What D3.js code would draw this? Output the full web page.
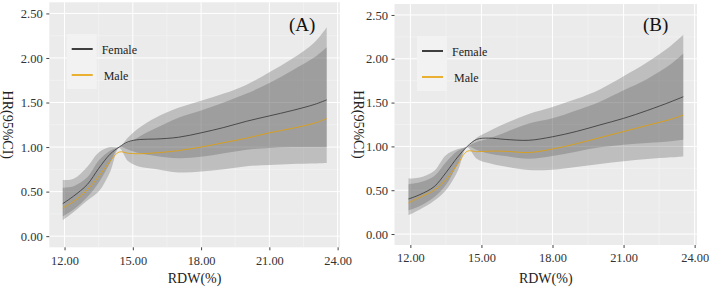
<!DOCTYPE html>
<html>
<head>
<meta charset="utf-8">
<script src="https://cdn.jsdelivr.net/npm/d3@7"></script>
<style>
  html, body { margin: 0; padding: 0; background: #fff; }
  svg { display: block; }
</style>
</head>
<body>
<svg id="chart" width="709" height="290"></svg>
<script>
// RDW grid the curves are read at
const rdw = [11.92, 12.4, 13.0, 13.5, 14.0, 14.4, 14.8, 15.3, 16.0, 17.0, 18.0, 19.0, 20.0, 21.0, 22.0, 23.0, 23.52];

// panel (A)
const femaleA   = [0.365, 0.45, 0.58, 0.76, 0.92, 1.0, 1.06, 1.085, 1.09, 1.11, 1.16, 1.22, 1.29, 1.35, 1.41, 1.48, 1.53];
const femaleHiA = [0.63, 0.645, 0.78, 0.94, 1.0, 1.0, 1.11, 1.22, 1.33, 1.44, 1.52, 1.60, 1.70, 1.84, 1.99, 2.18, 2.345];
const femaleLoA = [0.223, 0.30, 0.44, 0.60, 0.82, 1.0, 0.97, 0.93, 0.90, 0.875, 0.89, 0.93, 0.97, 0.99, 1.0, 1.0, 1.0];
const maleA     = [0.316, 0.39, 0.52, 0.67, 0.84, 0.945, 0.93, 0.925, 0.935, 0.96, 1.0, 1.05, 1.10, 1.16, 1.21, 1.27, 1.32];
const maleHiA   = [0.544, 0.56, 0.66, 0.85, 0.96, 1.0, 1.05, 1.12, 1.21, 1.33, 1.41, 1.50, 1.60, 1.72, 1.86, 2.01, 2.12];
const maleLoA   = [0.179, 0.27, 0.40, 0.50, 0.72, 0.99, 0.84, 0.78, 0.755, 0.715, 0.725, 0.75, 0.785, 0.80, 0.81, 0.815, 0.82];

// panel (B)
const femaleB   = [0.40, 0.45, 0.54, 0.70, 0.88, 1.0, 1.08, 1.095, 1.08, 1.07, 1.11, 1.17, 1.245, 1.32, 1.41, 1.51, 1.567];
const femaleHiB = [0.633, 0.645, 0.72, 0.90, 0.97, 1.0, 1.10, 1.17, 1.26, 1.37, 1.45, 1.54, 1.65, 1.80, 1.96, 2.15, 2.27];
const femaleLoB = [0.27, 0.32, 0.42, 0.56, 0.80, 1.0, 0.96, 0.92, 0.89, 0.86, 0.89, 0.94, 0.99, 1.02, 1.04, 1.06, 1.076];
const maleB     = [0.356, 0.42, 0.50, 0.62, 0.80, 0.945, 0.94, 0.945, 0.945, 0.93, 0.97, 1.03, 1.10, 1.17, 1.24, 1.31, 1.358];
const maleHiB   = [0.568, 0.59, 0.66, 0.82, 0.95, 1.0, 1.05, 1.09, 1.16, 1.26, 1.32, 1.41, 1.51, 1.64, 1.77, 1.94, 2.06];
const maleLoB   = [0.216, 0.28, 0.38, 0.50, 0.72, 0.99, 0.86, 0.81, 0.77, 0.73, 0.735, 0.765, 0.80, 0.83, 0.855, 0.875, 0.886];

const xTicks = [12, 15, 18, 21, 24];
const yTicks = [0, 0.5, 1, 1.5, 2, 2.5];
const legendLabels = ["Female", "Male"];

const FONT = "'Liberation Serif', 'Times New Roman', serif";
const ORANGE = "#E69F00";
const svg = d3.select("#chart");

function drawPanel(p) {
    const x = d3.scaleLinear().domain([11.33, 24.10]).range([p.left, p.right]);
    const y = d3.scaleLinear().domain([-0.125, 2.625]).range([p.bottom, p.top]);
    const g = svg.append("g");

    g.append("rect")
        .attr("x", p.left).attr("y", p.top)
        .attr("width", p.right - p.left).attr("height", p.bottom - p.top)
        .attr("fill", "#EBEBEB");

    // minor + major grid
    const minorX = [13.5, 16.5, 19.5, 22.5];
    const minorY = [0.25, 0.75, 1.25, 1.75, 2.25];
    g.selectAll(null).data(minorX).enter().append("line")
        .attr("x1", d => x(d)).attr("x2", d => x(d)).attr("y1", p.top).attr("y2", p.bottom)
        .attr("stroke", "#F5F5F5").attr("stroke-width", 0.6);
    g.selectAll(null).data(minorY).enter().append("line")
        .attr("y1", d => y(d)).attr("y2", d => y(d)).attr("x1", p.left).attr("x2", p.right)
        .attr("stroke", "#F5F5F5").attr("stroke-width", 0.6);
    g.selectAll(null).data(xTicks).enter().append("line")
        .attr("x1", d => x(d)).attr("x2", d => x(d)).attr("y1", p.top).attr("y2", p.bottom)
        .attr("stroke", "#FFFFFF").attr("stroke-width", 1);
    g.selectAll(null).data(yTicks).enter().append("line")
        .attr("y1", d => y(d)).attr("y2", d => y(d)).attr("x1", p.left).attr("x2", p.right)
        .attr("stroke", "#FFFFFF").attr("stroke-width", 1);

    const rows = rdw.map((v, i) => ({
        v, f: p.f[i], fHi: p.fHi[i], fLo: p.fLo[i], m: p.m[i], mHi: p.mHi[i], mLo: p.mLo[i]
    }));
    const curve = d3.curveCatmullRom.alpha(0.5);

    const band = (lo, hi) => d3.area()
        .x(d => x(d.v)).y0(d => y(d[lo])).y1(d => y(d[hi]))
        .curve(curve);
    g.append("path").datum(rows).attr("d", band("fLo", "fHi"))
        .attr("fill", "#555").attr("fill-opacity", 0.3);
    g.append("path").datum(rows).attr("d", band("mLo", "mHi"))
        .attr("fill", "#555").attr("fill-opacity", 0.3);

    const line = key => d3.line().x(d => x(d.v)).y(d => y(d[key])).curve(curve);
    g.append("path").datum(rows).attr("d", line("f"))
        .attr("fill", "none").attr("stroke", "#333").attr("stroke-width", 0.8);
    g.append("path").datum(rows).attr("d", line("m"))
        .attr("fill", "none").attr("stroke", ORANGE).attr("stroke-width", 0.8);

    // axes
    g.append("g").attr("transform", `translate(0,${p.bottom})`)
        .call(d3.axisBottom(x).tickValues(xTicks).tickFormat(d3.format(".2f")).tickSize(3).tickPadding(5.5))
        .call(a => a.select(".domain").remove())
        .call(a => a.selectAll("line").attr("stroke", "#444"))
        .call(a => a.selectAll("text").attr("fill", "#333").attr("font-size", 12.4).attr("font-family", FONT));
    g.append("g").attr("transform", `translate(${p.left},0)`)
        .call(d3.axisLeft(y).tickValues(yTicks).tickFormat(d3.format(".2f")).tickSize(3).tickPadding(3.5))
        .call(a => a.select(".domain").remove())
        .call(a => a.selectAll("line").attr("stroke", "#444"))
        .call(a => a.selectAll("text").attr("fill", "#333").attr("font-size", 12.6).attr("font-family", FONT));

    g.append("text").attr("x", (p.left + p.right) / 2).attr("y", 283)
        .attr("text-anchor", "middle").attr("font-family", FONT).attr("font-size", 14).attr("fill", "#222")
        .text("RDW(%)");
    g.append("text")
        .attr("transform", `translate(${p.yTitleX},${(p.top + p.bottom) / 2}) rotate(90)`)
        .attr("text-anchor", "middle").attr("dy", "0.35em")
        .attr("font-family", FONT).attr("font-size", 14).attr("fill", "#222")
        .text("HR(95%CI)");

    g.append("text").attr("x", p.tagX).attr("y", 31)
        .attr("font-family", FONT).attr("font-size", 19).attr("fill", "#111")
        .text(p.tag);

    // legend
    const lg = g.append("g").attr("transform", `translate(${p.legX},${p.legY})`);
    lg.append("rect").attr("width", 30).attr("height", 55).attr("fill", "#F2F2F2");
    [["#111", 0], [ORANGE, 1]].forEach(([c, i]) => {
        const yy = 15 + i * 26;
        lg.append("line").attr("x1", 5).attr("x2", 26).attr("y1", yy).attr("y2", yy)
            .attr("stroke", c).attr("stroke-width", 1.6);
        lg.append("text").attr("x", 35 + i * 2).attr("y", yy + 4.5)
            .attr("font-family", FONT).attr("font-size", 12).attr("fill", "#222")
            .text(legendLabels[i]);
    });
}

drawPanel({
    left: 49.3, right: 339.9, top: 2.3, bottom: 247.3, yTitleX: 7.5, tag: "(A)", tagX: 289,
    legX: 66.7, legY: 34,
    f: femaleA, fHi: femaleHiA, fLo: femaleLoA, m: maleA, mHi: maleHiA, mLo: maleLoA
});
drawPanel({
    left: 394.5, right: 697, top: 4.0, bottom: 245, yTitleX: 359, tag: "(B)", tagX: 643,
    legX: 417, legY: 36,
    f: femaleB, fHi: femaleHiB, fLo: femaleLoB, m: maleB, mHi: maleHiB, mLo: maleLoB
});
</script>
</body>
</html>
